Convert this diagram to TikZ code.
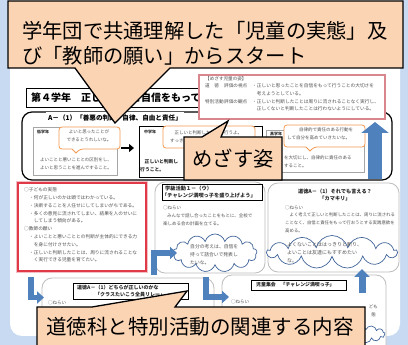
\documentclass[tikz,border=0pt]{standalone}
\usepackage{fontspec}
\setmainfont{Noto Sans CJK JP}
\usetikzlibrary{shapes.symbols,arrows.meta}
\definecolor{bgblue}{HTML}{C8DAF2}
\definecolor{peach}{HTML}{FBD4B4}
\definecolor{orng}{HTML}{F29B54}
\definecolor{rose}{HTML}{D9878C}
\definecolor{redb}{HTML}{E03A48}
\definecolor{pinkglow}{HTML}{F4BFC3}
\definecolor{barrow}{HTML}{4F81BD}
\definecolor{cloudb}{HTML}{41649A}
\definecolor{greyb}{HTML}{BDBDBD}
\definecolor{txt}{HTML}{505050}
\tikzset{
  tx/.style={inner sep=0pt, text=txt, align=left, font=\fontsize{4.5}{7.8}\selectfont},
  txb/.style={inner sep=0pt, text=black!85, align=left, font=\fontsize{4.8}{7.6}\selectfont\bfseries},
  ttl/.style={inner sep=0pt, text=black!85, align=left, font=\fontsize{5.2}{7}\selectfont\bfseries},
  greybox/.style={draw=greyb, line width=0.8pt, fill=white, rounded corners=10pt},
  subbox/.style={draw=gray!70, line width=0.6pt, fill=white},
  bubble/.style={draw=orng, line width=0.8pt, fill=white},
  cloudy/.style={cloud, cloud puffs=13, cloud ignores aspect, draw=cloudb, line width=0.7pt, fill=white, inner sep=0pt},
  barr/.style={draw=barrow, line width=5.5pt, line join=miter, -{Triangle[width=12pt,length=7pt]}},
  callout/.style={draw=black, line width=1.3pt, fill=peach, line join=miter},
  big/.style={inner sep=0pt, text=black, font=\fontsize{20.3}{26}\selectfont},
}
\begin{document}
\begin{tikzpicture}[x=1pt,y=-1pt]
\useasboundingbox (0,0) rectangle (408,345);
\clip (0,0) rectangle (408,345);
\fill[bgblue] (0,0) rectangle (408,345);
\fill[white, rounded corners=12pt] (10,-20) rectangle (400,336);

% title box
\draw[line width=0.6pt, fill=white] (26,88) rectangle (205,107);
\node[anchor=west, inner sep=0pt, font=\fontsize{10}{12}\selectfont\bfseries] (titletext) at (31,98) {第４学年　正しいことを自信をもって};

% big panel
\draw[line width=1.2pt, rounded corners=10pt, fill=white] (22,112) rectangle (392,180);
\node[fill=white, inner xsep=2pt, inner ysep=0pt, minimum height=12pt, font=\fontsize{6.6}{8}\selectfont\bfseries] (ptitle) at (115,118) {A－（1）「善悪の判断、自律、自由と責任」};

% low grade
\draw[subbox] (33,127) rectangle (117,175);
\node[txb, anchor=west, font=\fontsize{4}{5}\selectfont\bfseries] (lowlbl) at (37,131.5) {低学年};
\draw[bubble] (90,127) [rounded corners=3pt] -- (120,127) -- (120,149) -- (80,149) [sharp corners] -- (76,153) -- (72,149) [rounded corners=3pt] -- (59,149) -- (59,127) -- cycle;
\node[tx, align=center] (lowbub) at (89,136) {よいと思ったことが\\できるとうれしいな。};
\node[tx, align=center] (lowtxt) at (76,164) {よいことと悪いこととの区別をし、\\よいと思うことを進んですること。};
\coordinate (arrA) at (121,148);
\coordinate (arrB) at (134,148);
\draw[line width=2.8pt, -{Triangle[width=8pt,length=5pt]}] (arrA) -- (arrB);

% middle grade
\draw[line width=1pt, fill=white] (139,127) rectangle (262,178);
\node[txb, anchor=west, font=\fontsize{4}{5}\selectfont\bfseries] (midlbl) at (144,132) {中学年};
\draw[bubble] (200,126) [rounded corners=3pt] -- (255,126) -- (255,148) -- (206,148) [sharp corners] -- (202,152) -- (198,148) [rounded corners=3pt] -- (163,148) -- (163,126) -- cycle;
\node[tx, anchor=north west] (midbub) at (170,130.5) {\hspace*{4.5pt}正しいと判断したことは行うよ。\\すっきりするな。};
\node[txb, anchor=north west] (midtxt) at (140,159.5) {\hspace*{4.5pt}正しいと判断し\\行うこと。};

% high grade
\draw[subbox] (266,130) rectangle (364,172);
\node[txb, anchor=west, font=\fontsize{4}{5}\selectfont\bfseries] (highlbl) at (270,134) {高学年};
\draw[bubble] (320,125) [rounded corners=3pt] -- (365,125) -- (365,147) -- (314,147) [sharp corners] -- (310,151) -- (306,147) [rounded corners=3pt] -- (284,147) -- (284,125) -- cycle;
\node[tx, anchor=north west] (highbub) at (287,127.7) {\hspace*{12pt}自律的で責任のある行動を\\して自分を高めていきたいな。};
\node[tx, anchor=north west] (hightxt) at (284,155.5) {を大切にし、自律的に責任のある\\すること。};

% big blue up arrow
\coordinate (bigA) at (375,179.5);
\coordinate (bigB) at (375,122);
\draw[draw=barrow, line width=14pt, -{Triangle[width=27pt,length=11pt]}] (bigA) -- (bigB);

% pink box
\draw[rose, line width=1.2pt, fill=white] (199,75) rectangle (385,119);
\node[tx, anchor=west, font=\fontsize{4.6}{6}\selectfont] (pk0) at (205,78.5) {【めざす児童の姿】};
\node[tx, anchor=west, font=\fontsize{4.6}{6}\selectfont] (pk1) at (205,86) {道　徳};
\node[tx, anchor=west, font=\fontsize{4.6}{6}\selectfont] (pk2) at (224,86) {評価の視点};
\node[tx, anchor=north west, font=\fontsize{4.7}{7.5}\selectfont] (pk3) at (252,83.6) {・正しいと思ったことを自信をもって行うことの大切さを\\\hspace*{4.7pt}考えようとしている。};
\node[tx, anchor=west, font=\fontsize{4.6}{6}\selectfont] (pk4) at (205,101.5) {特別活動};
\node[tx, anchor=west, font=\fontsize{4.6}{6}\selectfont] (pk5) at (224,101.5) {評価の観点};
\node[tx, anchor=north west, font=\fontsize{4.7}{7.5}\selectfont] (pk6) at (252,99.1) {・正しいと判断したことは周りに流されることなく実行し、\\\hspace*{4.7pt}正しくないと判断したことは行わないようにしている。};

% red box
\draw[pinkglow, line width=3.5pt] (18,183) rectangle (146,271);
\draw[redb, line width=1.4pt, fill=white] (18,183) rectangle (146,271);
\node[tx, anchor=north west, font=\fontsize{4.7}{7.8}\selectfont] (redtxt) at (24,187.6) {○子どもの実態\\
\hspace*{5pt}・何が正しいのかは頭ではわかっている。\\
\hspace*{5pt}・決断することを人任せにしてしまいがちである。\\
\hspace*{5pt}・多くの意見に流されてしまい、結果を人のせいに\\
\hspace*{9.7pt}してしまう傾向がある。\\
○教師の願い\\
\hspace*{5pt}・よいことと悪いこととの判断が主体的にできる力\\
\hspace*{9.7pt}を身に付けさせたい。\\
\hspace*{5pt}・正しいと判断したことは、周りに流されることな\\
\hspace*{9.7pt}く実行できる児童を育てたい。};

% middle lower box
\draw[greybox] (155,182) rectangle (265,273);
\draw[line width=0.6pt, fill=white] (162,184) rectangle (262,200);
\node[ttl, anchor=west] (gk1) at (165,189) {学級活動１－（ウ）};
\node[ttl, anchor=west] (gk2) at (162,196) {「チャレンジ満喫っ子を盛り上げよう」};
\node[tx, anchor=west] (gk3) at (163,208) {○ねらい};
\node[tx, anchor=west] (gk4) at (167,216) {みんなで話し合ったことをもとに、全校で};
\node[tx, anchor=west] (gk5) at (163,223.5) {楽しめる会の計画を立てる。};

% right lower box
\draw[greybox] (268,183) rectangle (399,272);
\node[ttl, align=center] (dt1) at (335,195) {道徳A－（1）それでも言える？\\「カマキリ」};
\node[tx, anchor=west] (dt2) at (285,208) {○ねらい};
\node[tx, anchor=north west, font=\fontsize{4.4}{7.8}\selectfont] (dt3) at (285,213) {\hspace*{4.4pt}よく考えて正しいと判断したことは、周りに流される\\ことなく、自信と責任をもって行おうとする実践意欲を\\高める。};

% clouds
\node[cloudy, minimum width=84pt, minimum height=38pt] (cl1) at (215,253) {};
\node[tx, anchor=north west, font=\fontsize{4.8}{8}\selectfont] (cl1t) at (190,244.6) {自分の考えは、自信を\\持って話合いで発表し\\たいな。};
\node[cloudy, minimum width=130pt, minimum height=33pt] (cl2) at (332,252) {};
\node[tx, anchor=north west, font=\fontsize{5}{8}\selectfont] (cl2t) at (287,242.5) {よくないことははっきりと断り、\\よいことは友達にもすすめたい\\な。};

% bottom left box
\draw[greybox] (42,278) rectangle (214,360);
\draw[line width=0.6pt, fill=white] (73,283) rectangle (188,299);
\node[ttl, anchor=west, font=\fontsize{5}{7}\selectfont\bfseries] (bl1) at (77,288) {道徳A－（1）どちらが正しいのかな};
\node[ttl, anchor=west, font=\fontsize{5}{7}\selectfont\bfseries] (bl2) at (95,295) {「クラスたいこう全員リレー」};
\node[tx, anchor=west] (bl3) at (48,303) {○ねらい};

% children's assembly box
\draw[greybox] (222,275) rectangle (386,360);
\draw[line width=0.6pt, fill=white] (251,280) rectangle (346,290);
\node[ttl, anchor=west, font=\fontsize{4.9}{7}\selectfont\bfseries] (ja1) at (256,285) {児童集会　「チャレンジ満喫っ子」};
\node[tx, anchor=west] (ja2) at (231,302) {○ねらい};
\node[tx, anchor=east] (ja3) at (378,307) {ども};
\node[tx, anchor=east] (ja4) at (376,315) {態};
\node[cloudy, minimum width=50pt, minimum height=18pt] (cl3) at (360,334) {};

% blue L arrows
\coordinate (a1s) at (31,277);
\coordinate (a1m) at (31,297.5);
\coordinate (a1e) at (44,297.5);
\draw[barr] (a1s) -- (a1m) -- (a1e);
\coordinate (a2s) at (154,275);
\coordinate (a2m) at (154,253);
\coordinate (a2e) at (177,253);
\draw[barr] (a2s) -- (a2m) -- (a2e);
\coordinate (a3s) at (206,277);
\coordinate (a3m) at (206,297);
\coordinate (a3e) at (229,297);
\draw[barr] (a3s) -- (a3m) -- (a3e);
\coordinate (a4s) at (362,293);
\coordinate (a4e) at (362,269);
\draw[draw=barrow, line width=7pt, -{Triangle[width=15pt,length=8pt]}] (a4s) -- (a4e);

% callouts
\draw[callout] (8,1) -- (403,1) -- (403,68) -- (170,68) -- (115,123) -- (75,68) -- (8,68) -- cycle;
\node[big, anchor=west] (cap1) at (22,31) {学年団で共通理解した「児童の実態」及};
\node[big, anchor=west] (cap2) at (22,56) {び「教師の願い」からスタート};

\draw[callout] (184,137) -- (202,137) -- (228,121) -- (221,137) -- (282,137) -- (282,180) -- (184,180) -- cycle;
\node[big] (goal) at (233,159) {めざす姿};

\draw[callout] (37,307) -- (92,307) -- (187,291) -- (175,307) -- (365,307) -- (365,350) -- (37,350) -- cycle;
\node[big, font=\fontsize{20.5}{26}\selectfont] (cap3) at (200,327) {道徳科と特別活動の関連する内容};
\end{tikzpicture}
\end{document}
